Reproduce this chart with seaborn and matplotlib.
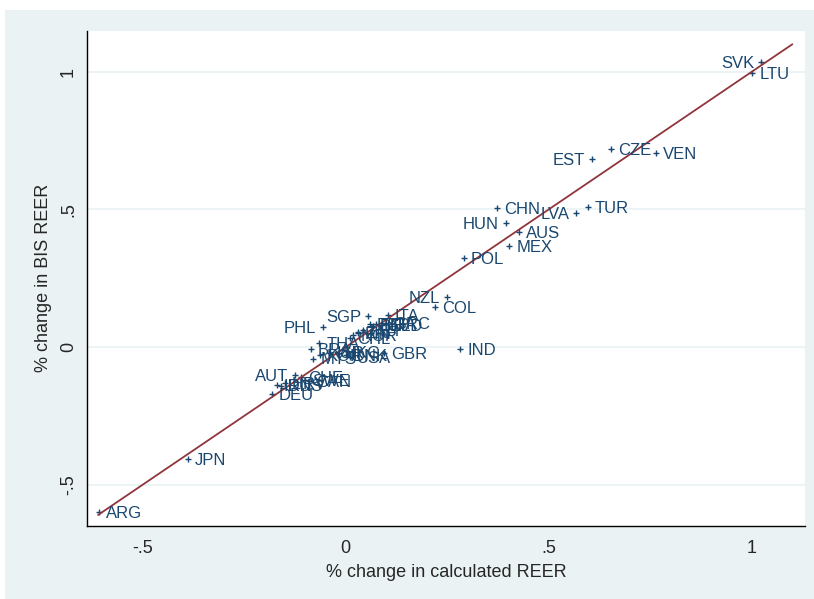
import numpy as np
import pandas as pd
import seaborn as sns
import matplotlib
matplotlib.use("Agg")
import matplotlib.pyplot as plt
from matplotlib.patches import Rectangle

# ---- data ----
countries = ["ARG", "JPN", "DEU", "AUT", "SVK", "LTU", "CZE", "VEN", "EST", "CHN",
             "TUR", "LVA", "HUN", "AUS", "MEX", "POL", "NZL", "COL", "IND", "GBR",
             "SGP", "PHL", "ITA", "THA", "BRA", "MYS", "KOR", "CHL", "NOR", "ZAF",
             "ESP", "FRA", "NLD", "GRC", "BEL", "PRT", "FIN", "HKG", "DNK", "ISR",
             "USA", "CHE", "SWE", "CAN", "IDN", "RUS", "HRV"]
calc_reer = [-0.608, -0.389, -0.182, -0.125, 1.023, 1.001, 0.653, 0.764, 0.607, 0.372,
             0.596, 0.568, 0.394, 0.426, 0.403, 0.290, 0.249, 0.220, 0.282, 0.095,
             0.056, -0.057, 0.103, -0.065, -0.086, -0.080, -0.063, 0.011, 0.019, 0.031,
             0.060, 0.075, 0.090, 0.100, 0.066, 0.042, 0.030, -0.020, 0.000, -0.040,
             0.010, -0.110, -0.100, -0.090, -0.170, -0.160, -0.150]
bis_reer = [-0.599, -0.407, -0.172, -0.102, 1.036, 0.994, 0.719, 0.706, 0.682, 0.506,
            0.507, 0.487, 0.450, 0.419, 0.368, 0.324, 0.181, 0.146, -0.008, -0.021,
            0.114, 0.074, 0.116, 0.016, -0.007, -0.042, -0.029, 0.032, 0.044, 0.056,
            0.082, 0.085, 0.080, 0.088, 0.078, 0.062, 0.050, -0.020, -0.030, -0.020,
            -0.035, -0.110, -0.120, -0.125, -0.138, -0.140, -0.130]
left_labels = ["AUT", "SVK", "EST", "LVA", "HUN", "NZL", "SGP", "PHL"]

fit_x = [-0.61, 1.10]
fit_y = [-0.61, 1.10]

xticks = [-0.5, 0, 0.5, 1]
xticklabels = ["-.5", "0", ".5", "1"]
yticks = [-0.5, 0, 0.5, 1]
yticklabels = ["-.5", "0", ".5", "1"]

df = pd.DataFrame({"calc": calc_reer, "bis": bis_reer, "cty": countries})
fit = pd.DataFrame({"x": fit_x, "y": fit_y})

# ---- style ----
sns.set_style("white")
plt.rcParams["font.family"] = ["Liberation Sans", "DejaVu Sans"]

navy = "#1a476f"
maroon = "#90353b"
bg = "#eaf2f3"

fig = plt.figure(figsize=(8.14, 5.99), dpi=100, facecolor="white")
fig.patches.append(Rectangle((5 / 814, 0), 1, 1 - 10 / 599, transform=fig.transFigure,
                             facecolor=bg, edgecolor="none", zorder=-10))
ax = fig.add_axes([86.7 / 814, 1 - 525.7 / 599, (805 - 86.7) / 814, (525.7 - 31) / 599])
ax.set_facecolor("white")

for yv in yticks:
    ax.axhline(yv, color=bg, lw=1.2, zorder=0)

sns.scatterplot(data=df, x="calc", y="bis", marker="+", color=navy, s=18,
                linewidth=1.0, ax=ax, zorder=3, legend=False)
sns.lineplot(data=fit, x="x", y="y", color=maroon, lw=1.3, ax=ax, zorder=4)

for _, r in df.iterrows():
    if r.cty in left_labels:
        ax.annotate(r.cty, (r.calc, r.bis), xytext=(-5, -1), textcoords="offset points",
                    ha="right", va="center", color=navy, fontsize=12, zorder=5)
    else:
        ax.annotate(r.cty, (r.calc, r.bis), xytext=(5, -1), textcoords="offset points",
                    ha="left", va="center", color=navy, fontsize=12, zorder=5)

ax.set_xlim(-0.638, 1.131)
ax.set_ylim(-0.649, 1.148)
ax.set_xticks(xticks)
ax.set_xticklabels(xticklabels, fontsize=13)
ax.set_yticks(yticks)
ax.set_yticklabels(yticklabels, fontsize=13, rotation=90, va="center")
ax.tick_params(axis="both", direction="out", length=6, width=1, color="black")
ax.tick_params(axis="y", pad=1)
ax.tick_params(axis="x", pad=4)
ax.set_xlabel("% change in calculated REER", fontsize=13, labelpad=5)
ax.set_ylabel("% change in BIS REER", fontsize=13, labelpad=6)
for s in ["top", "right"]:
    ax.spines[s].set_visible(False)
for s in ["left", "bottom"]:
    ax.spines[s].set_color("black")
    ax.spines[s].set_linewidth(1)

fig.savefig("out.png", dpi=100, facecolor=fig.get_facecolor())
